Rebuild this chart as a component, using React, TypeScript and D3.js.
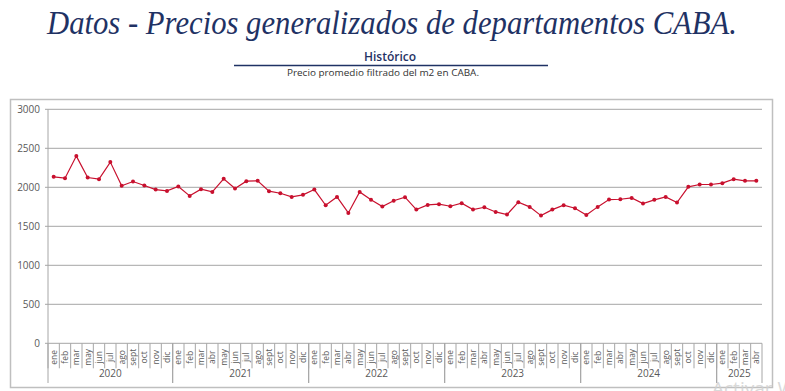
import * as d3 from "d3";

const W = 785;
const H = 391;

const years = [2020, 2021, 2022, 2023, 2024, 2025];
const months2020 = ["ene", "feb", "mar", "may", "jun", "jul", "ago", "sept", "oct", "nov", "dic"];
const monthsFull = ["ene", "feb", "mar", "abr", "may", "jun", "jul", "ago", "sept", "oct", "nov", "dic"];
const months2025 = ["ene", "feb", "mar", "abr"];

// precio promedio m2 (USD)
const values2020 = [2134, 2117, 2400, 2126, 2104, 2323, 2019, 2074, 2023, 1971, 1954];
const values2021 = [2010, 1890, 1976, 1941, 2109, 1984, 2079, 2083, 1950, 1924, 1877, 1903];
const values2022 = [1971, 1770, 1877, 1671, 1941, 1839, 1753, 1828, 1873, 1714, 1774, 1783];
const values2023 = [1757, 1796, 1714, 1744, 1684, 1650, 1809, 1749, 1637, 1714, 1770, 1731];
const values2024 = [1646, 1749, 1843, 1847, 1864, 1791, 1839, 1877, 1804, 2006, 2036, 2036];
const values2025 = [2053, 2104, 2083, 2083];

const yTicks = [0, 500, 1000, 1500, 2000, 2500, 3000];

const monthsByYear = [months2020, monthsFull, monthsFull, monthsFull, monthsFull, months2025];
const valuesByYear = [values2020, values2021, values2022, values2023, values2024, values2025];

const data = years.flatMap((year, i) =>
  monthsByYear[i].map((month, j) => ({
    key: `${year}-${month}`,
    year,
    month,
    value: valuesByYear[i][j],
  }))
);

const plotLeft = 48;
const plotRight = 762;
const plotTop = 109.3;
const plotBottom = 343.3;

const axisColor = "#a6a6a6";
const textColor = "#595959";
const lineColor = "#c8102e";
const navy = "#1f3264";
const axisFont = "'Open Sans', 'Noto Sans', sans-serif";

const App = () => {
  const x = d3
    .scaleBand()
    .domain(data.map((d) => d.key))
    .range([plotLeft, plotRight])
    .padding(0);

  const y = d3.scaleLinear().domain([0, 3000]).range([plotBottom, plotTop]);

  const cx = (d) => x(d.key) + x.bandwidth() / 2;

  const line = d3
    .line()
    .x((d) => cx(d))
    .y((d) => y(d.value));

  // límites de cada año para los separadores y etiquetas
  const yearGroups = years.map((year) => {
    const items = data.filter((d) => d.year === year);
    const start = x(items[0].key);
    const end = x(items[items.length - 1].key) + x.bandwidth();
    return { year, start, end };
  });

  return (
    <svg
      width={W}
      height={H}
      viewBox={`0 0 ${W} ${H}`}
      style={{ position: "absolute", left: 0, top: 0, background: "#fff" }}
    >
      <rect x={0} y={0} width={W} height={H} fill="#ffffff" />

      {/* title block */}
      <text
        x={392}
        y={34}
        textAnchor="middle"
        fontFamily="'Liberation Serif', 'DejaVu Serif', serif"
        fontStyle="italic"
        fontSize={33}
        fill={navy}
        textLength={690}
        lengthAdjust="spacingAndGlyphs"
      >
        Datos - Precios generalizados de departamentos CABA.
      </text>
      <text
        x={390}
        y={61}
        textAnchor="middle"
        fontFamily={axisFont}
        fontWeight={600}
        fontSize={12}
        fill={navy}
      >
        Histórico
      </text>
      <line x1={234} x2={548} y1={65.5} y2={65.5} stroke={navy} strokeWidth={1.5} />
      <text
        x={383}
        y={76}
        textAnchor="middle"
        fontFamily={axisFont}
        fontSize={8.5}
        fill="#333"
        textLength={192}
        lengthAdjust="spacingAndGlyphs"
      >
        Precio promedio filtrado del m2 en CABA.
      </text>

      {/* chart frame */}
      <rect x={10.5} y={99.5} width={762} height={288} fill="none" stroke="#bfbfbf" strokeWidth={1.5} />

      {/* gridlines and y labels */}
      <g className="y-axis">
        {yTicks.map((t) => (
          <g key={t}>
            {t > 0 && (
              <line x1={plotLeft} x2={plotRight} y1={y(t)} y2={y(t)} stroke={axisColor} strokeWidth={1} />
            )}
            <line x1={plotLeft - 3} x2={plotLeft} y1={y(t)} y2={y(t)} stroke={axisColor} strokeWidth={1} />
            <text
              x={plotLeft - 8}
              y={y(t)}
              dy="0.35em"
              textAnchor="end"
              fontFamily={axisFont}
              fontSize={10}
              fill={textColor}
            >
              {t}
            </text>
          </g>
        ))}
        <line x1={plotLeft} x2={plotLeft} y1={plotTop} y2={plotBottom} stroke={axisColor} strokeWidth={1} />
      </g>

      {/* x axis */}
      <g className="x-axis">
        <line x1={plotLeft} x2={plotRight} y1={plotBottom} y2={plotBottom} stroke={axisColor} strokeWidth={1} />
        {data.map((d) => (
          <g key={d.key}>
            <line
              x1={x(d.key)}
              x2={x(d.key)}
              y1={plotBottom}
              y2={plotBottom + 25}
              stroke={axisColor}
              strokeWidth={1}
            />
            <text
              transform={`translate(${cx(d) + 3},${plotBottom + 14}) rotate(-90)`}
              textAnchor="middle"
              fontFamily={axisFont}
              fontSize={8.5}
              fill={textColor}
            >
              {d.month}
            </text>
          </g>
        ))}
        {yearGroups.map((g) => (
          <g key={g.year}>
            <line x1={g.start} x2={g.start} y1={plotBottom} y2={383} stroke={axisColor} strokeWidth={1} />
            <line x1={g.end} x2={g.end} y1={plotBottom} y2={383} stroke={axisColor} strokeWidth={1} />
            <text
              x={(g.start + g.end) / 2}
              y={377}
              textAnchor="middle"
              fontFamily={axisFont}
              fontSize={10}
              fill={textColor}
            >
              {g.year}
            </text>
          </g>
        ))}
      </g>

      {/* series */}
      <path d={line(data)} fill="none" stroke={lineColor} strokeWidth={1.2} />
      <g className="points">
        {data.map((d) => (
          <circle key={d.key} cx={cx(d)} cy={y(d.value)} r={2} fill={lineColor} />
        ))}
      </g>

      {/* watermark */}
      <text
        x={712}
        y={395}
        fontFamily={axisFont}
        fontSize={19}
        fill="#d0d0d0"
        opacity={0.8}
      >
        Activar Windows
      </text>
    </svg>
  );
};

export default App;
